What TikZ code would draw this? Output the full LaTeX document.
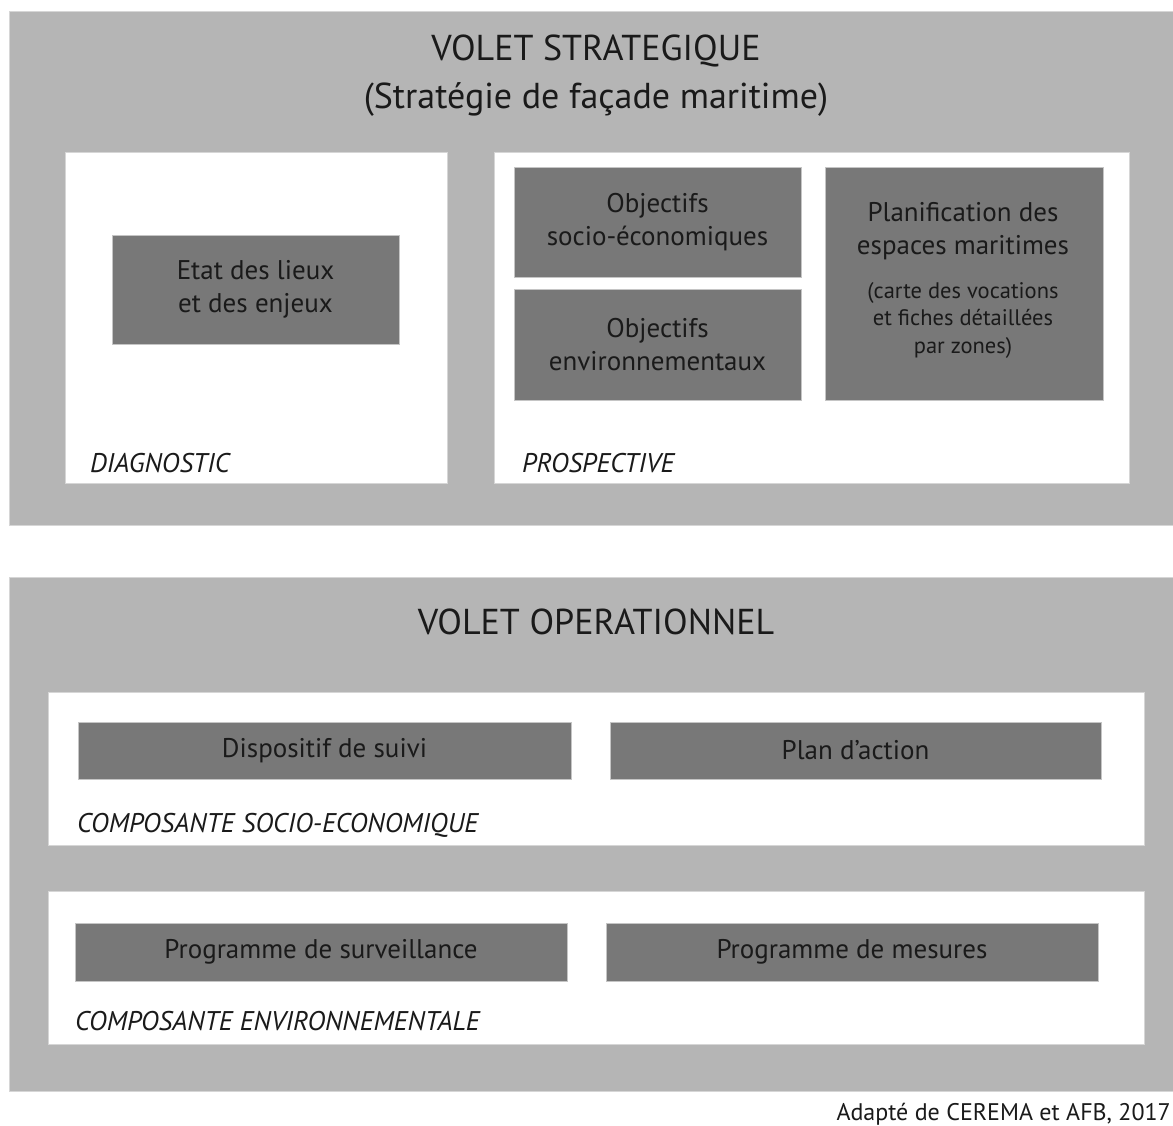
\documentclass[tikz,border=0pt]{standalone}
\usepackage{fontspec}
\setmainfont{PT Sans}
\definecolor{panelgray}{HTML}{B5B5B5}
\definecolor{boxgray}{HTML}{787878}
\definecolor{txt}{HTML}{1A1A1A}
\definecolor{edge}{HTML}{D6D6D6}
\begin{document}
\begin{tikzpicture}[x=1pt,y=-1pt,
  panel/.style={fill=panelgray, draw=edge, line width=0.6pt},
  wbox/.style={fill=white, draw=edge, line width=0.8pt},
  btext/.style={text=txt, align=center, font=\fontsize{27}{33}\selectfont},
  dbox/.style={btext, fill=boxgray, draw=edge!80!gray, line width=0.6pt},
  title/.style={text=txt, align=center, font=\fontsize{36}{48}\selectfont},
  lbl/.style={text=txt, anchor=base west, inner sep=0pt, font=\fontsize{27}{30}\selectfont\itshape},
  rect/.style={anchor=north west, inner sep=0pt, outer sep=0pt}]
\useasboundingbox (0,0) rectangle (1173,1126);
\fill[white] (0,0) rectangle (1173,1126);
% panels
\node[panel, rect, minimum width=1170, minimum height=514] (strat) at (9,11) {};
\node[panel, rect, minimum width=1170, minimum height=514] (oper) at (9,577) {};
% strategic content
\node[title] (stitle) at (596,76) {VOLET STRATEGIQUE\\(Stratégie de façade maritime)};
\node[wbox, rect, minimum width=382, minimum height=331] (diag) at (65,152) {};
\node[wbox, rect, minimum width=635, minimum height=331] (prosp) at (494,152) {};
\node[dbox, rect, minimum width=287, minimum height=109] (etat) at (112,235) {Etat des lieux\\et des enjeux};
\node[dbox, rect, minimum width=287, minimum height=110] (osoc) at (514,167) {Objectifs\\socio-économiques};
\node[dbox, rect, minimum width=287, minimum height=111] (oenv) at (514,289) {Objectifs\\environnementaux};
\node[dbox, rect, minimum width=278, minimum height=233] (plan) at (825,167) {};
\node[btext] (plant) at (963,231) {Planification des\\espaces maritimes};
\node[btext, font=\fontsize{22.5}{27.5}\selectfont] (plans) at (963,320) {(carte des vocations\\et fiches détaillées\\par zones)};
\node[lbl] (ldiag) at (90,472) {DIAGNOSTIC};
\node[lbl] (lprosp) at (522,472) {PROSPECTIVE};
% operational content
\node[title] (otitle) at (596,622) {VOLET OPERATIONNEL};
\node[wbox, rect, minimum width=1096, minimum height=153] (csoc) at (48,692) {};
\node[wbox, rect, minimum width=1096, minimum height=153] (cenv) at (48,891) {};
\node[dbox, rect, minimum width=493, minimum height=57] (disp) at (78,722) {Dispositif de suivi};
\node[dbox, rect, minimum width=491, minimum height=57] (pact) at (610,722) {Plan d’action};
\node[dbox, rect, minimum width=492, minimum height=58] (psurv) at (75,923) {Programme de surveillance};
\node[dbox, rect, minimum width=492, minimum height=58] (pmes) at (606,923) {Programme de mesures};
\node[lbl] (lsoc) at (77,832) {COMPOSANTE SOCIO-ECONOMIQUE};
\node[lbl] (lenv) at (75,1030) {COMPOSANTE ENVIRONNEMENTALE};
\node[text=txt, anchor=base east, inner sep=0pt, font=\fontsize{24}{28}\selectfont] (src) at (1171,1120) {Adapté de CEREMA et AFB, 2017};
\end{tikzpicture}
\end{document}
